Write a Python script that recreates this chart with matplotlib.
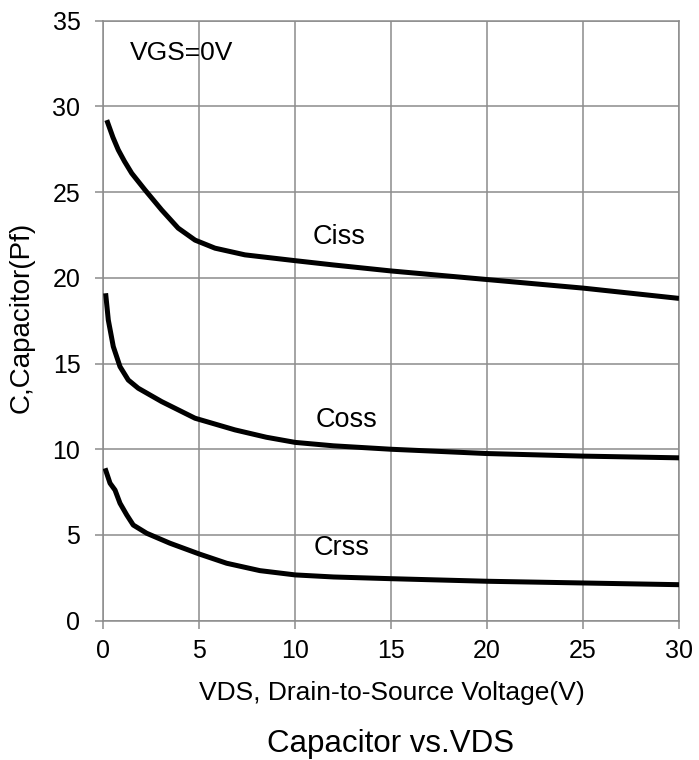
import matplotlib.pyplot as plt

plt.rcParams['font.family'] = ['Liberation Sans', 'DejaVu Sans']

# Ciss curve (VDS in V, C in pF)
ciss_x = [0.18, 0.5, 0.78, 1.1, 1.48, 2.17, 3.04, 3.9, 4.78, 5.82, 7.38, 10, 12, 15, 20, 25, 30]
ciss_y = [29.2, 28.2, 27.46, 26.8, 26.1, 25.13, 23.96, 22.9, 22.2, 21.73, 21.34, 21.0, 20.75, 20.4, 19.9, 19.4, 18.8]

# Coss curve
coss_x = [0.12, 0.26, 0.52, 0.87, 1.3, 1.82, 3.04, 4.78, 6.86, 8.5, 10, 12, 15, 20, 25, 30]
coss_y = [19.1, 17.54, 15.99, 14.82, 14.04, 13.56, 12.78, 11.81, 11.13, 10.7, 10.4, 10.2, 10.0, 9.75, 9.6, 9.5]

# Crss curve
crss_x = [0.09, 0.35, 0.61, 0.87, 1.22, 1.56, 2.26, 3.47, 5, 6.43, 8.16, 10, 12, 15, 20, 25, 30]
crss_y = [8.89, 8.02, 7.62, 6.85, 6.17, 5.58, 5.1, 4.52, 3.89, 3.35, 2.92, 2.67, 2.55, 2.45, 2.3, 2.2, 2.1]

fig = plt.figure(figsize=(6.99, 7.6), dpi=100)
ax = fig.add_axes([0.1478, 0.1833, 0.8236, 0.7895])

grid_c = '#8c8c8c'
for xs, ys in [(ciss_x, ciss_y), (coss_x, coss_y), (crss_x, crss_y)]:
    ax.plot(xs, ys, color='black', lw=3.6, solid_capstyle='butt', solid_joinstyle='round', zorder=3)

ax.set_xlim(0, 30)
ax.set_ylim(0, 35)
ax.set_xticks(range(0, 31, 5))
ax.set_yticks(range(0, 36, 5))
ax.grid(True, color=grid_c, lw=1.1)
for s in ax.spines.values():
    s.set_color(grid_c)
    s.set_linewidth(1.1)
ax.tick_params(colors=grid_c, length=5.5, width=1.1, labelsize=18, labelcolor='black')
ax.tick_params(axis='x', pad=8)
ax.tick_params(axis='y', pad=11)

ax.text(12.3, 22.4, 'Ciss', fontsize=19.5, ha='center', va='center')
ax.text(12.65, 11.7, 'Coss', fontsize=19.5, ha='center', va='center')
ax.text(12.4, 4.24, 'Crss', fontsize=19.5, ha='center', va='center')
ax.text(1.4, 33.1, 'VGS=0V', fontsize=19, ha='left', va='center')

fig.text(0.561, 0.0789, 'VDS, Drain-to-Source Voltage(V)', fontsize=19, ha='center', va='baseline')
fig.text(0.031, 0.582, 'C,Capacitor(Pf)', fontsize=20, ha='center', va='center', rotation=90)
fig.text(0.558, 0.0105, 'Capacitor vs.VDS', fontsize=22.5, ha='center', va='baseline')

fig.savefig('out.png', dpi=100)
